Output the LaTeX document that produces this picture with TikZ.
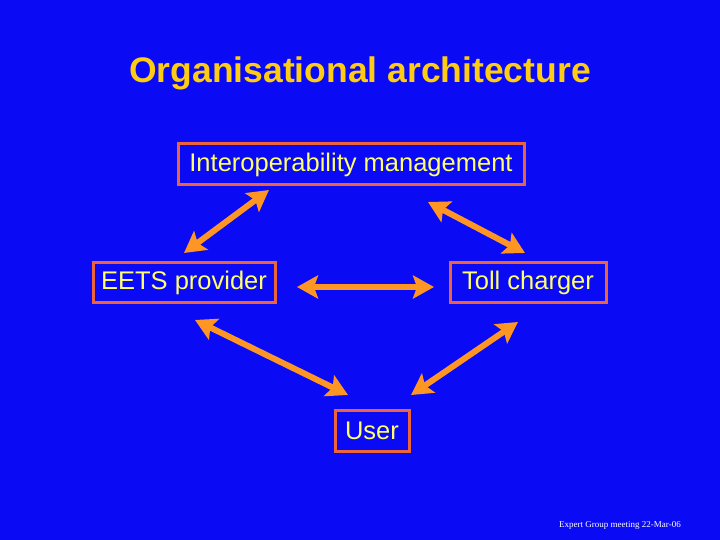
\documentclass[tikz,border=0pt]{standalone}
\usepackage{fontspec}
\setmainfont{Liberation Sans}
\newfontfamily\footfont{Liberation Serif}
\usetikzlibrary{arrows.meta}
\definecolor{slideblue}{RGB}{10,10,245}
\definecolor{titleyellow}{RGB}{255,204,20}
\definecolor{boxtext}{RGB}{255,255,110}
\definecolor{boxedge}{RGB}{235,100,60}
\definecolor{arroworange}{RGB}{255,150,35}
\tikzset{
  role/.style={draw=boxedge, line width=3pt, text=boxtext, inner sep=0pt,
    font=\fontsize{25.5}{30}\selectfont},
  link/.style={arroworange, line width=6pt,
    {Stealth[length=21pt,width=23pt,inset=4pt]}-{Stealth[length=21pt,width=23pt,inset=4pt]}}
}
\begin{document}
\begin{tikzpicture}[x=1pt,y=1pt]
  \fill[slideblue] (0,0) rectangle (720,540);
  \useasboundingbox (0,0) rectangle (720,540);
  \node (title) at (360,467) [text=titleyellow, font=\bfseries\fontsize{35.5}{40}\selectfont]
    {Organisational architecture};
  \draw
    (351,375.5) node[role, minimum width=346, minimum height=41] (interop){Interoperability management}
    (184,257) node[role, minimum width=182, minimum height=40] (eets){EETS provider}
    (528,257) node[role, minimum width=156, minimum height=40] (toll){Toll charger}
    (372,109) node[role, minimum width=74, minimum height=41] (user){User};
  \coordinate (ie) at (269,350);
  \coordinate (it) at (428,338);
  \coordinate (ei) at (184,287);
  \coordinate (et) at (297,253);
  \coordinate (eu) at (195,220);
  \coordinate (ti) at (525,287);
  \coordinate (te) at (434,253);
  \coordinate (tu) at (518,218);
  \coordinate (ue) at (348,145);
  \coordinate (ut) at (411,145);
  \begin{scope}[link]
    \draw (ei) to (ie);
    \draw (it) to (ti);
    \draw (et) to (te);
    \draw (eu) to (ue);
    \draw (tu) to (ut);
  \end{scope}
  \node (foot) at (620,15) [text=white, font=\footfont\fontsize{9}{11}\selectfont]
    {Expert Group meeting 22-Mar-06};
\end{tikzpicture}
\end{document}
